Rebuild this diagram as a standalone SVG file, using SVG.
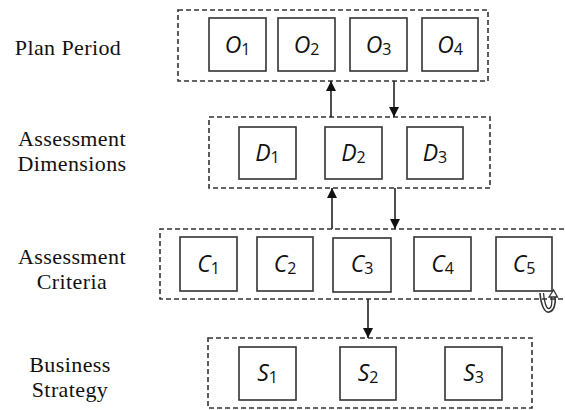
<svg xmlns="http://www.w3.org/2000/svg" width="565" height="410" viewBox="0 0 565 410">
<defs>
<style>
.grp{fill:none;stroke:#333;stroke-width:1.6;stroke-dasharray:5 3}
.box{fill:#fff;stroke:#333;stroke-width:1.6}
.lbl{font-family:"Liberation Serif",serif;font-size:22px;letter-spacing:0.4px;fill:#111;text-anchor:middle}
.nt{font-family:"Open Sans","Noto Sans",sans-serif;font-size:23px;font-style:italic;fill:#111;text-anchor:middle}
.sub{font-size:16px;font-style:normal}
.con{stroke:#222;stroke-width:1.6;fill:none}
</style>
<marker id="ah" viewBox="0 0 10 10" refX="10" refY="5" markerWidth="10" markerHeight="10" markerUnits="userSpaceOnUse" orient="auto">
<path d="M0,0 L10,5 L0,10 z" fill="#111"/>
</marker>
</defs>
<rect width="565" height="410" fill="#fff"/>
<g id="labels">
<text class="lbl" x="68" y="55">Plan Period</text>
<text class="lbl" x="72" y="146">Assessment</text>
<text class="lbl" x="72" y="170.5">Dimensions</text>
<text class="lbl" x="72" y="264">Assessment</text>
<text class="lbl" x="72" y="288.5">Criteria</text>
<text class="lbl" x="70" y="372">Business</text>
<text class="lbl" x="70" y="396.5">Strategy</text>
</g>
<g id="groups">
<rect class="grp" x="178" y="10" width="310" height="71"/>
<rect class="grp" x="209" y="117" width="281" height="71"/>
<path class="grp" d="M572,229 H160 V299 H572"/>
<rect class="grp" x="208" y="338" width="324" height="70"/>
</g>
<g id="O1"><rect class="box" x="209" y="18" width="57" height="53"/><text class="nt" x="237.5" y="53">O<tspan class="sub" dy="2">1</tspan></text></g>
<g id="O2"><rect class="box" x="278" y="18" width="57" height="53"/><text class="nt" x="306.5" y="53">O<tspan class="sub" dy="2">2</tspan></text></g>
<g id="O3"><rect class="box" x="350" y="18" width="57" height="53"/><text class="nt" x="378.5" y="53">O<tspan class="sub" dy="2">3</tspan></text></g>
<g id="O4"><rect class="box" x="422" y="18" width="56" height="53"/><text class="nt" x="450" y="53">O<tspan class="sub" dy="2">4</tspan></text></g>
<g id="D1"><rect class="box" x="239" y="127" width="57" height="52"/><text class="nt" x="267.5" y="161">D<tspan class="sub" dy="2">1</tspan></text></g>
<g id="D2"><rect class="box" x="325" y="127" width="57" height="52"/><text class="nt" x="353.5" y="161">D<tspan class="sub" dy="2">2</tspan></text></g>
<g id="D3"><rect class="box" x="407" y="127" width="56" height="52"/><text class="nt" x="435" y="161">D<tspan class="sub" dy="2">3</tspan></text></g>
<g id="C1"><rect class="box" x="180" y="237" width="57" height="54"/><text class="nt" x="208.5" y="272">C<tspan class="sub" dy="2">1</tspan></text></g>
<g id="C2"><rect class="box" x="257" y="237" width="56" height="54"/><text class="nt" x="285" y="272">C<tspan class="sub" dy="2">2</tspan></text></g>
<g id="C3"><rect class="box" x="333" y="238" width="58" height="54"/><text class="nt" x="362" y="272">C<tspan class="sub" dy="2">3</tspan></text></g>
<g id="C4"><rect class="box" x="414" y="237" width="57" height="54"/><text class="nt" x="442.5" y="272">C<tspan class="sub" dy="2">4</tspan></text></g>
<g id="C5"><rect class="box" x="496" y="237" width="56" height="54"/><text class="nt" x="524" y="272">C<tspan class="sub" dy="2">5</tspan></text></g>
<g id="S1"><rect class="box" x="239" y="347" width="57" height="53"/><text class="nt" x="267.5" y="381">S<tspan class="sub" dy="2">1</tspan></text></g>
<g id="S2"><rect class="box" x="340" y="347" width="56" height="53"/><text class="nt" x="368" y="381">S<tspan class="sub" dy="2">2</tspan></text></g>
<g id="S3"><rect class="box" x="445" y="347" width="57" height="53"/><text class="nt" x="473.5" y="381">S<tspan class="sub" dy="2">3</tspan></text></g>
<g id="connectors">
<line class="con" x1="331" y1="117" x2="331" y2="81" marker-end="url(#ah)"/>
<line class="con" x1="394" y1="81" x2="394" y2="117" marker-end="url(#ah)"/>
<line class="con" x1="332" y1="229" x2="332" y2="188" marker-end="url(#ah)"/>
<line class="con" x1="395" y1="188" x2="395" y2="229" marker-end="url(#ah)"/>
<line class="con" x1="368" y1="299" x2="368" y2="338" marker-end="url(#ah)"/>
</g>
<g id="loop">
<path d="M540,293 C541,306 545,313 549,312 C554,311 556,304 555,296" fill="none" stroke="#333" stroke-width="1.6"/>
<path d="M543.5,293 C544.5,303 546.5,309 549,308.5 C551.5,308 552.5,303 551.5,297" fill="none" stroke="#333" stroke-width="1.3"/>
<path d="M549,297 L553.5,290 L557.5,297 z" fill="#fff" stroke="#333" stroke-width="1.3"/>
</g>
</svg>
